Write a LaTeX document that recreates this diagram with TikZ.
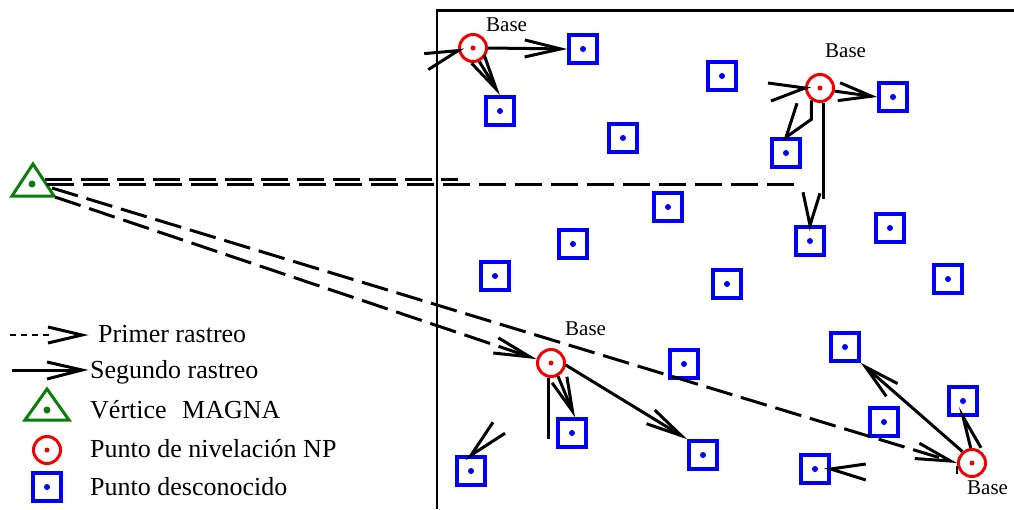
\documentclass[tikz,border=0pt]{standalone}
\usepackage{fontspec}
\setmainfont{Liberation Serif}
\usetikzlibrary{arrows.meta}
\definecolor{ptblue}{RGB}{0,0,250}
\definecolor{ptred}{RGB}{240,0,0}
\definecolor{ptgreen}{RGB}{10,125,10}

\begin{document}
\begin{tikzpicture}[x=1pt,y=-1pt,
  unknown/.style={draw=ptblue, line width=3.5pt, fill=white, minimum size=28pt, inner sep=0pt,
    path picture={\fill[ptblue] (path picture bounding box.center) circle (3pt);}},
  levelpt/.style={circle, draw=ptred, line width=3pt, fill=white, minimum size=27pt, inner sep=0pt,
    path picture={\fill[ptred] (path picture bounding box.center) circle (2.5pt);}},
  trace/.style={line width=3pt},
  firsttrace/.style={line width=3pt, dash pattern=on 27pt off 9pt},
  barb/.style 2 args={-{Straight Barb[length=#1pt,width=#2pt]}},
  baselbl/.style={font=\fontsize{21}{24}\selectfont, anchor=base west, inner sep=0pt},
  legendlbl/.style={font=\fontsize{26}{30}\selectfont, anchor=base west, inner sep=0pt}
]
\useasboundingbox (0,0) rectangle (1014,509);

% survey area frame
\draw[line width=2.5pt] (437,509) -- (437,10.5) -- (1014,10.5);

% MAGNA vertex
\coordinate (tri) at (33,183);
\draw[ptgreen, line width=3pt, line join=miter] (33,164) -- (54,196) -- (12,196) -- cycle;
\fill[ptgreen] (32,184) circle (3.5pt);

% unknown points
\foreach \n/\x/\y in {1/583/49, 2/500/111, 3/722/76, 4/623/138, 5/893/97, 6/786/153,
  7/668/207, 8/573/244, 9/810/241, 10/890/228, 11/495/276, 12/727/284, 13/948/279,
  14/684/364, 15/845/347, 16/963/401, 17/884/422, 18/572/433, 19/703/455, 20/471/471, 21/815/469}
  \node[unknown] (s\n) at (\x,\y) {};

% levelling points (bases)
\node[levelpt] (cA) at (473,48) {};
\node[levelpt] (cB) at (820,88) {};
\node[levelpt] (cC) at (551,363) {};
\node[levelpt] (cD) at (972,463) {};

\node[baselbl] (bA) at (486,31) {Base};
\node[baselbl] (bB) at (825,57) {Base};
\node[baselbl] (bC) at (565,335) {Base};
\node[baselbl] (bD) at (967,494) {Base};

% first survey (dashed)
\coordinate (h1s) at (45,179);
\coordinate (h1e) at (458,179);
\coordinate (h2s) at (47,184);
\coordinate (h2e) at (800,184);
\coordinate (d1s) at (52,188);
\coordinate (d2s) at (55,197);
\draw[firsttrace] (h1s) -- (h1e);
\draw[firsttrace] (h2s) -- (h2e);
\draw[firsttrace, barb={36}{16}] (d2s) -- (cC.165);
\draw[firsttrace, barb={35}{16}] (d1s) -- (cD.west);

% second survey (solid)
\draw[trace] (cA.190) ++(-34,3) -- (cA.190) -- ++(-30,19);
\draw[trace, barb={36}{17}] (cA.east) -- (s1.west);
\draw[trace, barb={35}{15}] (cA.-65) -- (s2.north);

\draw[trace] (cB.west) ++(-37,-5) -- (cB.west) -- ++(-34,13);
\draw[trace, barb={33}{18}] (cB.-12) -- (s5.west);
\draw[trace] (cB.-125) -- ++(0,19) -- (s6.north) -- ++(11,-34);
\draw[trace] (cB.-78) -- ++(0,96);
\draw[trace] (s9.north) ++(-7,-33) -- (s9.north) -- ++(10,-32);

\draw[trace] (cC.-100) -- ++(0,61);
\draw[trace, barb={34}{16}] (cC.-62) -- ([xshift=3pt]s18.north);
\draw[trace, barb={36}{16}] (cC.-8) -- (s19.north west);
\draw[trace] (s20.north) ++(22,-33) -- (s20.north) -- ++(34,-22);

\draw[trace, barb={35}{17}] (cD.130) -- (s15.south east);
\draw[trace] (cD.95) -- (s16.south) -- ++(18,31);
\draw[line width=2pt] (cD.west) ++(0,3) -- ++(0,8);
\draw[trace] (s21.east) ++(35,-5) -- (s21.east) -- ++(35,11);

% legend
\draw[line width=1.6pt, dash pattern=on 6pt off 5pt] (10,335) -- (50,335);
\draw[trace] (48,327) -- (82,335) -- (48,343);
\draw[trace] (12,370) -- (82,370);
\draw[trace] (47,362) -- (82,370) -- (47,379);
\draw[ptgreen, line width=3pt, line join=miter] (47,389) -- (69,420) -- (25,420) -- cycle;
\fill[ptgreen] (47,410) circle (3.5pt);
\node[levelpt] (lgc) at (47,450) {};
\node[unknown] (lgs) at (47,487) {};

\node[legendlbl] (lg1) at (98,342) {Primer rastreo};
\node[legendlbl] (lg2) at (90,378) {Segundo rastreo};
\node[legendlbl] (lg3) at (90,418) {Vértice\hspace{9pt} MAGNA};
\node[legendlbl] (lg4) at (90,457) {Punto de nivelación NP};
\node[legendlbl] (lg5) at (90,495) {Punto desconocido};
\end{tikzpicture}
\end{document}
